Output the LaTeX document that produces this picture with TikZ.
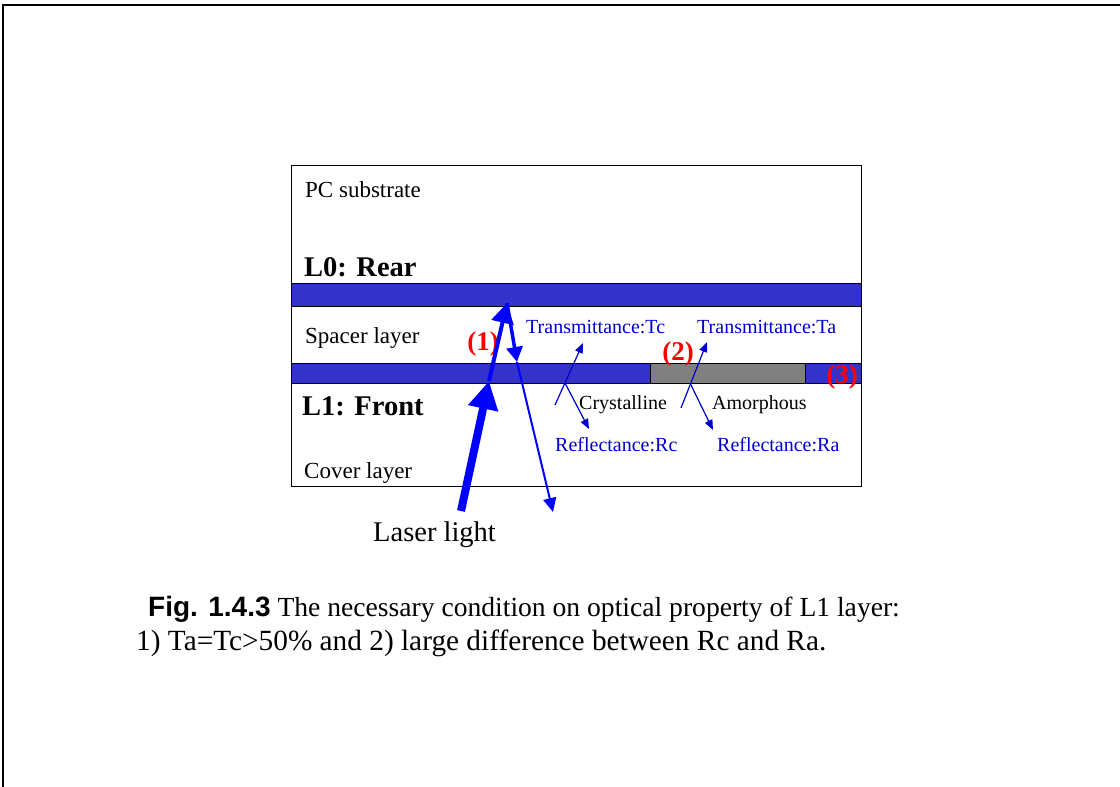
\documentclass[tikz,border=0pt]{standalone}
\usepackage{fontspec}
\setmainfont{Liberation Serif}
\setsansfont{Liberation Sans}
\usetikzlibrary{arrows.meta}
\definecolor{layerblue}{RGB}{51,51,204}
\definecolor{labelblue}{RGB}{0,0,204}
\definecolor{markred}{RGB}{255,0,0}

\begin{document}
\begin{tikzpicture}[x=1pt, y=-1pt,
    layer/.style={draw=black, line width=1pt},
    plain/.style={anchor=base west, inner sep=0pt, font=\fontsize{23}{27}\selectfont},
    title/.style={anchor=base west, inner sep=0pt, font=\bfseries\fontsize{28.5}{32}\selectfont},
    small/.style={anchor=base west, inner sep=0pt, font=\fontsize{20}{24}\selectfont},
    bluelabel/.style={small, text=labelblue},
    marknum/.style={anchor=base, inner sep=0pt, text=markred, font=\bfseries\fontsize{27}{30}\selectfont},
    ray/.style={draw=labelblue, line width=1.2pt, -{Triangle[length=10pt, width=8pt]}}]

    \useasboundingbox (0,0) rectangle (1120,787);

    % Frame
    \draw[line width=2pt] (3,787) -- (3,5) -- (1120,5);

    % Disc layers
    \draw[layer] (291,165) rectangle (861,486);
    \draw[layer, fill=layerblue] (291,283) rectangle (861,306);
    \draw[layer, fill=layerblue] (291,363) rectangle (861,383);
    \draw[layer, fill=gray] (650,363) rectangle (805,383);

    % Layer names
    \node[plain] (pc) at (305,197) {PC substrate};
    \node[title] (rear) at (304,276) {L0: Rear};
    \node[plain] (spacer) at (305,343) {Spacer layer};
    \node[title] (front) at (302,415) {L1: Front};
    \node[plain] (cover) at (304,478) {Cover layer};

    % Optical labels
    \node[bluelabel] (tc) at (526,333) {Transmittance:Tc};
    \node[bluelabel] (ta) at (697,333) {Transmittance:Ta};
    \node[small] (cryst) at (579,409) {Crystalline};
    \node[small] (amor) at (712,409) {Amorphous};
    \node[bluelabel] (rc) at (555,451) {Reflectance:Rc};
    \node[bluelabel] (ra) at (717,451) {Reflectance:Ra};

    \node[marknum] (m1) at (483,350) {(1)};
    \node[marknum] (m2) at (678,360) {(2)};
    \node[marknum] (m3) at (842,383) {(3)};

    % Laser beam
    \coordinate (laserin) at (461,511);
    \coordinate (hitfront) at (489,381);
    \coordinate (hitrear) at (507,303);
    \coordinate (backfront) at (517,362);
    \coordinate (beamout) at (553,512);
    \draw[blue, line width=8pt, -{Triangle[length=28pt, width=29pt]}] (laserin) -- (hitfront);
    \draw[blue, line width=4pt, -{Triangle[length=20pt, width=22pt]}] (hitfront) -- (hitrear);
    \draw[blue, line width=3.5pt, -{Triangle[length=15pt, width=16pt]}] (hitrear) -- (backfront);
    \draw[blue, line width=2pt, -{Triangle[length=14pt, width=13pt]}] (backfront) -- (beamout);
    \node[plain, font=\fontsize{28.5}{32}\selectfont] (laser) at (373,541) {Laser light};

    % Crystalline spot
    \coordinate (cin) at (555,405);
    \coordinate (chit) at (565,383);
    \coordinate (ct) at (583,343);
    \coordinate (cr) at (589,429);
    \draw[ray] (cin) -- (ct);
    \draw[ray] (chit) -- (cr);

    % Amorphous spot
    \coordinate (ain) at (681,408);
    \coordinate (ahit) at (690,383);
    \coordinate (at) at (707,342);
    \coordinate (ar) at (713,430);
    \draw[ray] (ain) -- (at);
    \draw[ray] (ahit) -- (ar);

    % Caption
    \node[plain, font=\fontsize{27.6}{32}\selectfont] (cap1) at (148,616) {{\sffamily\bfseries\fontsize{28}{32}\selectfont Fig. 1.4.3} The necessary condition on optical property of L1 layer:};
    \node[plain, font=\fontsize{29.3}{33}\selectfont] (cap2) at (136,650) {1) Ta=Tc>50\% and 2) large difference between Rc and Ra.};

\end{tikzpicture}
\end{document}
